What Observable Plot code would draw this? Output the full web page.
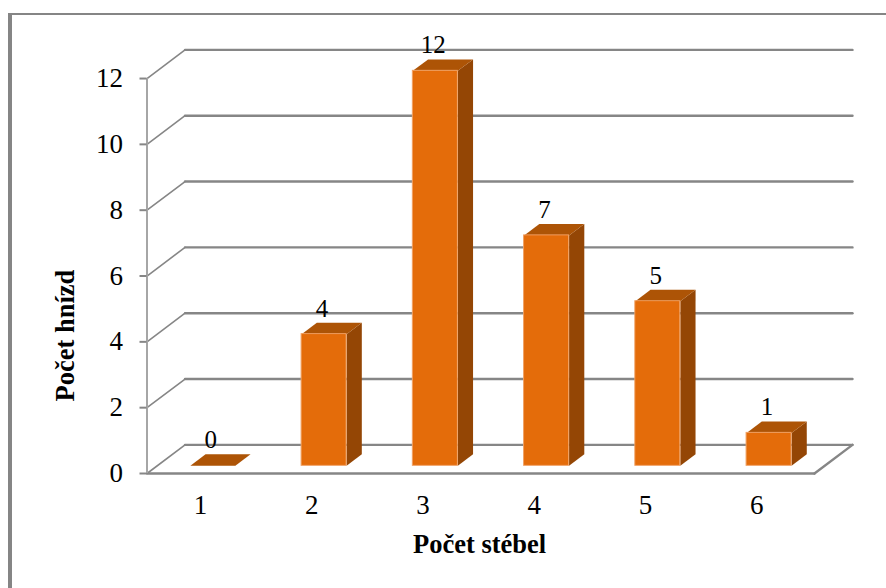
<!DOCTYPE html>
<html>
<head>
<meta charset="utf-8">
<script src="https://cdn.jsdelivr.net/npm/d3@7"></script>
<script src="https://cdn.jsdelivr.net/npm/@observablehq/plot@0.6"></script>
<style>
  html, body { margin: 0; padding: 0; background: #fff; overflow: hidden; }
  #sheet { position: relative; width: 886px; height: 588px; }
  #sheet svg { position: absolute; left: 0; top: 0; }
  #edge { position: absolute; left: 8px; top: 13px; right: 0; bottom: 0;
          border-top: 2px solid #858585; border-left: 4px solid #858585; }
</style>
</head>
<body>
<div id="sheet"><div id="edge"></div></div>
<script>
// Number of nests by number of stems
const stems = [1, 2, 3, 4, 5, 6];
const nests = [0, 4, 12, 7, 5, 1];
const yTicks = [0, 2, 4, 6, 8, 10, 12];
const xTitle = "Počet stébel";
const yTitle = "Počet hnízd";

// Oblique projection: depth 0 is the front of the floor, depth 1 the back wall
const skewX = 0.342;
const skewY = 0.87;
const at = (x, y, depth) => ({x: x + depth * skewX, y: y + depth * skewY});

const barFront = 0.269;
const barBack = barFront + 0.4;
const halfWidth = 0.2022;

const xMin = 0.5;
const xMax = 6.5;

const bars = stems.map((s, i) => ({stem: s, value: nests[i], i}));

// Polygon helper for the faces that a rect cannot draw
const faces = (corners) => bars.flatMap((b) => corners(b).map((p) => ({...p, id: b.i})));

const topFaces = faces((b) => {
  const l = b.stem - halfWidth, r = b.stem + halfWidth;
  return [at(l, b.value, barFront), at(r, b.value, barFront), at(r, b.value, barBack), at(l, b.value, barBack)];
});
const sideFaces = faces((b) => {
  const r = b.stem + halfWidth;
  return [at(r, 0, barFront), at(r, b.value, barFront), at(r, b.value, barBack), at(r, 0, barBack)];
});
const frontFaces = bars.filter((b) => b.value > 0).map((b) => ({
  x1: at(b.stem - halfWidth, 0, barFront).x,
  x2: at(b.stem + halfWidth, 0, barFront).x,
  y1: at(0, 0, barFront).y,
  y2: at(0, b.value, barFront).y
}));
const labels = bars.map((b) => ({...at(b.stem, b.value, barFront), text: String(b.value)}));

// Wall and floor lines
const backGrid = yTicks.map((t) => [at(xMin, t, 1), at(xMax, t, 1)]);
const leftWall = yTicks.map((t) => [at(xMin, t, 0), at(xMin, t, 1)]);
const floorEdges = [
  [at(xMin, 0, 0), at(xMax, 0, 0)],
  [at(xMax, 0, 0), at(xMax, 0, 1)]
];
const asLines = (segments) => segments.flatMap((seg, id) => seg.map((p) => ({...p, id})));

const GRID = "#868686";
const serif = "Liberation Serif";

const chart = Plot.plot({
  width: 886,
  height: 588,
  marginLeft: 146.5,
  marginRight: 34,
  marginTop: 49.4,
  marginBottom: 115,
  style: {background: "transparent", fontFamily: serif},
  x: {domain: [xMin, xMax + skewX], axis: null},
  y: {domain: [0, 12 + skewY], axis: null},
  marks: [
    Plot.line(asLines(backGrid), {x: "x", y: "y", z: "id", stroke: GRID, strokeWidth: 2.4}),
    Plot.line(asLines(leftWall), {x: "x", y: "y", z: "id", stroke: GRID, strokeWidth: 1.6}),
    Plot.line(asLines(floorEdges), {x: "x", y: "y", z: "id", stroke: GRID, strokeWidth: 2.4}),
    Plot.ruleX([xMin], {y1: 0, y2: 12, stroke: "#a6a6a6", strokeWidth: 2}),
    Plot.axisY({
      ticks: yTicks, tickSize: 7, tickPadding: 17, stroke: GRID, strokeWidth: 2,
      fontSize: 27, fill: "#000", label: null, tickFormat: String, textStroke: "none"
    }),
    Plot.axisX({
      ticks: stems, tickSize: 0, tickPadding: 21, dx: -2,
      fontSize: 27, fill: "#000", label: null, tickFormat: String
    }),
    Plot.line(sideFaces, {x: "x", y: "y", z: "id", fill: "#944605", stroke: "none"}),
    Plot.line(topFaces, {x: "x", y: "y", z: "id", fill: "#ad5406", stroke: "none"}),
    Plot.rect(frontFaces, {x1: "x1", x2: "x2", y1: "y1", y2: "y2", fill: "#e46c0a", stroke: "#f0a164", strokeWidth: 1}),
    Plot.rect(frontFaces, {x1: "x1", x2: "x2", y1: "y1", y2: "y2", fill: "#e46c0a", inset: 1}),
    Plot.text(labels, {x: "x", y: "y", text: "text", dx: -2, dy: -25.5, fontSize: 25, fill: "#000"}),
    Plot.text([xTitle], {x: 3.49, y: 0, dy: 71, text: (d) => d, fontSize: 26.5, fontWeight: "bold", fill: "#000"}),
    Plot.text([yTitle], {x: xMin, y: 4.19, dx: -81, rotate: -90, text: (d) => d, fontSize: 26.5, fontWeight: "bold", fill: "#000"})
  ]
});
document.getElementById("sheet").append(chart);
</script>
</body>
</html>
